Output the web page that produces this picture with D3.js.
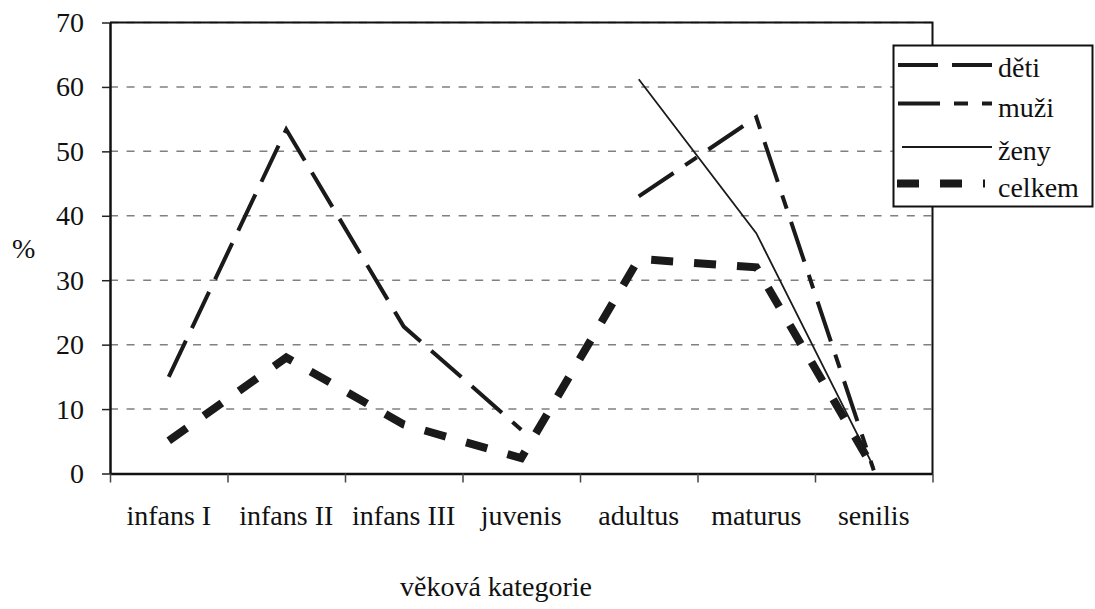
<!DOCTYPE html>
<html>
<head>
<meta charset="utf-8">
<script src="https://cdn.jsdelivr.net/npm/d3@7/dist/d3.min.js"></script>
<style>
  html, body { margin: 0; padding: 0; background: #ffffff; }
  svg { display: block; }
  text { font-family: "Liberation Serif", "Times New Roman", "DejaVu Serif", serif; fill: #111; }
</style>
</head>
<body>
<svg id="chart" width="1095" height="609"></svg>
<script>
// ---- data ----
const categories = ["infans I", "infans II", "infans III", "juvenis", "adultus", "maturus", "senilis"];
const yTicks = [0, 10, 20, 30, 40, 50, 60, 70];
const seriesNames = ["děti", "muži", "ženy", "celkem"];
const deti   = [15, 53.4, 22.8, 6.8, null, null, null];
const muzi   = [null, null, null, null, 43, 55.3, 0.5];
const zeny   = [null, null, null, null, 61.2, 37.3, 1];
const celkem = [5.1, 18, 7.6, 2.4, 33.3, 32, 0.7];
const xTitle = "věková kategorie";
const yTitle = "%";

// ---- layout ----
const W = 1095, H = 609;
const pLeft = 110, pRight = 932.5, pTop = 22.5, pBottom = 473.5;
const FONT = 28;

const svg = d3.select("#chart");
svg.append("rect").attr("width", W).attr("height", H).attr("fill", "#fff");

const x = d3.scaleBand().domain(categories).range([pLeft, pRight]).padding(0);
const xb = d3.scaleLinear().domain([0, categories.length]).range([pLeft, pRight]);
const y = d3.scaleLinear().domain([0, 70]).range([pBottom, pTop]);

// gridlines
svg.append("g").selectAll("line")
  .data(yTicks.filter(d => d > 0))
  .join("line")
  .attr("x1", pLeft).attr("x2", pRight)
  .attr("y1", d => y(d)).attr("y2", d => y(d))
  .attr("stroke", "#808080").attr("stroke-width", 1.5)
  .attr("stroke-dasharray", "8,8.6");

// frame (top / right)
svg.append("path")
  .attr("d", `M${pLeft},${pTop}H${pRight}V${pBottom}`)
  .attr("fill", "none").attr("stroke", "#111").attr("stroke-width", 2);

// y axis
const yAxis = svg.append("g")
  .attr("transform", `translate(${pLeft},0)`)
  .call(d3.axisLeft(y).tickValues(yTicks).tickSize(8).tickSizeOuter(0).tickPadding(18));
yAxis.select(".domain").attr("stroke", "#111").attr("stroke-width", 2.5);
yAxis.selectAll(".tick line").attr("stroke", "#222").attr("stroke-width", 1.5);
yAxis.selectAll(".tick text")
  .attr("font-size", FONT).attr("fill", "#111")
  .style("font-family", '"Liberation Serif", "Times New Roman", serif');

// x axis: boundary ticks
const xTickAxis = svg.append("g")
  .attr("transform", `translate(0,${pBottom})`)
  .call(d3.axisBottom(xb).tickValues(d3.range(0, categories.length + 1)).tickSize(9).tickSizeOuter(0).tickFormat(""));
xTickAxis.select(".domain").attr("stroke", "#111").attr("stroke-width", 2.5);
xTickAxis.selectAll(".tick line").attr("stroke", "#444").attr("stroke-width", 1.5);

// x axis: labels at band centers
const xLabAxis = svg.append("g")
  .attr("transform", `translate(0,${pBottom})`)
  .call(d3.axisBottom(x).tickSize(0).tickSizeOuter(0));
xLabAxis.select(".domain").remove();
xLabAxis.selectAll(".tick text")
  .attr("y", 525 - pBottom).attr("dy", 0)
  .attr("font-size", FONT).attr("fill", "#111")
  .style("font-family", '"Liberation Serif", "Times New Roman", serif');

// axis titles
svg.append("text").attr("x", 12).attr("y", 258).attr("font-size", FONT).text(yTitle);
svg.append("text").attr("x", 496).attr("y", 596).attr("text-anchor", "middle")
  .attr("font-size", FONT).text(xTitle);

// series styles
const styles = [
  { data: deti,   width: 4,   dash: "40,14" },
  { data: muzi,   width: 4,   dash: "42,14,14,14" },
  { data: zeny,   width: 1.8, dash: null },
  { data: celkem, width: 8,   dash: "22,21" }
];

const line = d3.line()
  .defined(d => d.v !== null)
  .x(d => x(d.c) + x.bandwidth() / 2)
  .y(d => y(d.v));

const drawOrder = [3, 0, 1, 2];
drawOrder.forEach(i => {
  const s = styles[i];
  const pts = categories.map((c, j) => ({ c, v: s.data[j] }));
  svg.append("path")
    .datum(pts)
    .attr("d", line)
    .attr("fill", "none")
    .attr("stroke", "#1a1a1a")
    .attr("stroke-width", s.width)
    .attr("stroke-linecap", "butt")
    .attr("stroke-linejoin", "miter")
    .attr("stroke-dasharray", s.dash);
});

// legend
const lg = svg.append("g");
lg.append("rect")
  .attr("x", 893.5).attr("y", 45.5).attr("width", 199).attr("height", 161)
  .attr("fill", "#fff").attr("stroke", "#111").attr("stroke-width", 2);
const sampleY = [65, 103.5, 147, 183.5];
const textY = [77, 117, 160, 197];
const sampleX = [[898, 992], [898, 992], [902, 992], [897, 985]];
seriesNames.forEach((name, i) => {
  const s = styles[i];
  lg.append("line")
    .attr("x1", sampleX[i][0]).attr("x2", sampleX[i][1])
    .attr("y1", sampleY[i]).attr("y2", sampleY[i])
    .attr("stroke", "#1a1a1a").attr("stroke-width", s.width)
    .attr("stroke-dasharray", s.dash);
  lg.append("text")
    .attr("x", 998).attr("y", textY[i])
    .attr("font-size", FONT).text(name);
});
</script>
</body>
</html>
